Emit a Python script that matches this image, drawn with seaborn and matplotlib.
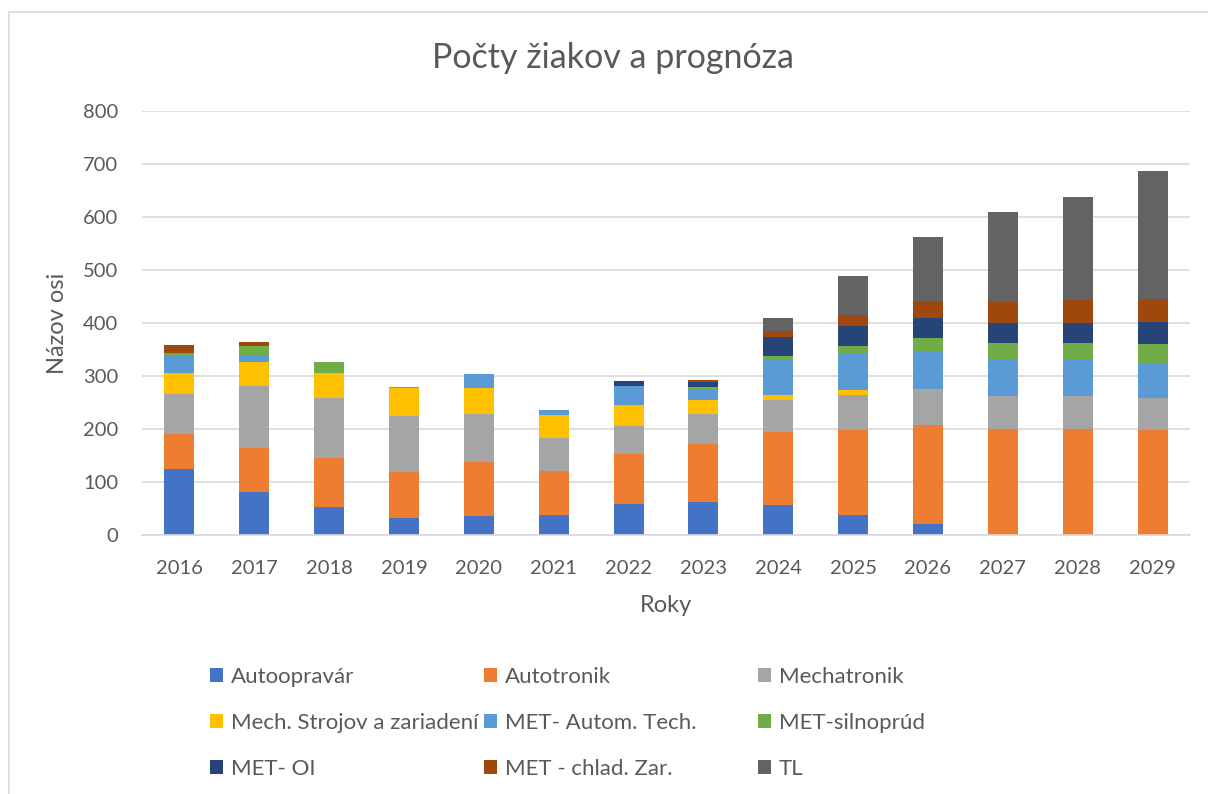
import matplotlib
matplotlib.use("Agg")
import matplotlib.pyplot as plt
import matplotlib.patches as mpatches
import numpy as np
import pandas as pd
import seaborn as sns

years = ["2016", "2017", "2018", "2019", "2020", "2021", "2022",
         "2023", "2024", "2025", "2026", "2027", "2028", "2029"]

series_names = ["Autoopravár", "Autotronik", "Mechatronik",
                "Mech. Strojov a zariadení", "MET- Autom. Tech.", "MET-silnoprúd",
                "MET- OI", "MET - chlad. Zar.", "TL"]

autoopravar = [125, 81, 52, 32, 36, 37, 59, 62, 56, 37, 21, 0, 0, 0]
autotronik = [66, 83, 94, 87, 102, 84, 94, 110, 138, 162, 186, 200, 200, 198]
mechatronik = [75, 117, 113, 106, 90, 62, 53, 56, 60, 66, 68, 63, 63, 60]
mech_strojov = [40, 45, 46, 53, 49, 43, 40, 27, 11, 8, 0, 0, 0, 0]
met_autom = [31, 11, 0, 0, 27, 10, 36, 20, 66, 69, 73, 70, 70, 67]
met_silnoprud = [7, 19, 21, 2, 0, 0, 0, 4, 6, 14, 23, 30, 30, 36]
met_oi = [0, 0, 0, 0, 0, 0, 8, 10, 37, 39, 38, 37, 37, 40]
met_chlad = [14, 9, 1, 0, 0, 0, 0, 3, 11, 20, 32, 39, 44, 44]
tl = [0, 0, 0, 0, 0, 0, 0, 0, 24, 74, 121, 171, 193, 242]

series_values = [autoopravar, autotronik, mechatronik, mech_strojov, met_autom,
                 met_silnoprud, met_oi, met_chlad, tl]

colors = ["#4472C4", "#ED7D31", "#A5A5A5", "#FFC000", "#5B9BD5",
          "#70AD47", "#264478", "#9E480E", "#636363"]

sns.set_theme(style="white")
plt.rcParams["font.family"] = ["Lato", "DejaVu Sans"]
txt = "#595959"

fig = plt.figure(figsize=(12.08, 7.94), dpi=100)
ax = fig.add_axes([142 / 1208, (794 - 535) / 794, (1190 - 142) / 1208, (535 - 111) / 794])

bottom = np.zeros(len(years))
for name, vals, col in zip(series_names, series_values, colors):
    df = pd.DataFrame({"year": years, "value": vals})
    sns.barplot(data=df, x="year", y="value", order=years, color=col,
                width=0.4, errorbar=None, bottom=bottom, linewidth=0,
                saturation=1, ax=ax)
    bottom = bottom + np.array(vals)

ax.set_ylim(0, 800)
ax.set_xlim(-0.5, len(years) - 0.5)
ax.set_yticks(range(0, 801, 100))
ax.yaxis.grid(True, color="#D9D9D9", linewidth=1.2)
ax.set_axisbelow(True)
for s in ["left", "right", "top"]:
    ax.spines[s].set_visible(False)
ax.spines["bottom"].set_color("#D9D9D9")
ax.spines["bottom"].set_linewidth(1.2)
ax.tick_params(axis="both", length=0, labelsize=14.5, colors=txt)
ax.tick_params(axis="x", pad=18)
ax.tick_params(axis="y", pad=17)
ax.set_xlabel("Roky", fontsize=17, color=txt, labelpad=13)
ax.set_ylabel("Názov osi", fontsize=17, color=txt, labelpad=11)

fig.text(613 / 1208, 1 - 58 / 794, "Počty žiakov a prognóza",
         ha="center", va="center", fontsize=24.5, color=txt)

# legend: three columns, row-major
col_x = [210, 484, 758]
for c in range(3):
    handles = []
    for r in range(3):
        i = r * 3 + c
        handles.append(mpatches.Patch(facecolor=colors[i], edgecolor="none",
                                      label=series_names[i]))
    leg = fig.legend(handles=handles, loc="center left",
                     bbox_to_anchor=(col_x[c] / 1208, 1 - 723 / 794),
                     frameon=False, fontsize=16, handlelength=0.6,
                     handleheight=0.6, handletextpad=0.35, labelspacing=1.18,
                     borderpad=0, borderaxespad=0)
    for t in leg.get_texts():
        t.set_color(txt)

border = mpatches.Rectangle((9 / 1208, -0.05), 1.1, 1 - 12 / 794 + 0.05,
                            transform=fig.transFigure, fill=False,
                            edgecolor="#D9D9D9", linewidth=1.2)
fig.patches.append(border)

fig.savefig("out.png", dpi=100)
